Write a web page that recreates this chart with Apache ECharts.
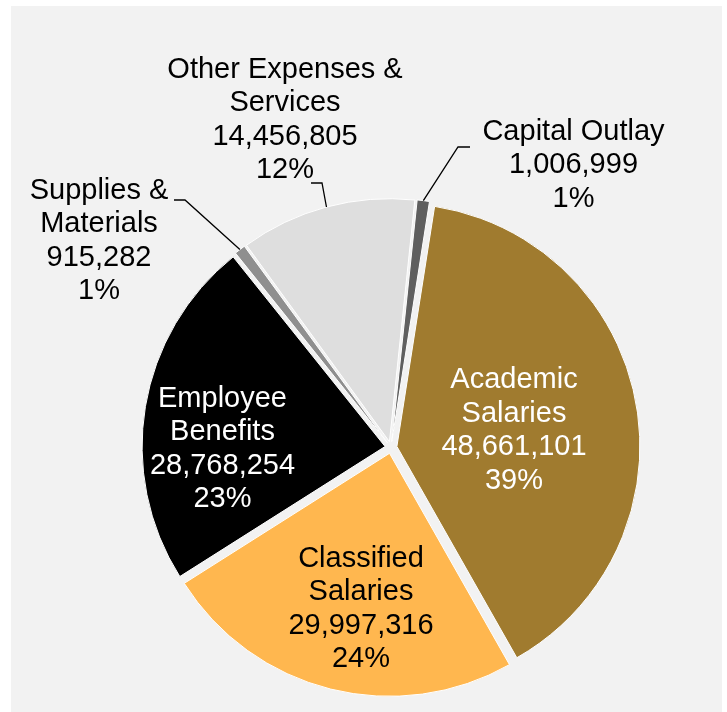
<!DOCTYPE html>
<html>
<head>
<meta charset="utf-8">
<title>Expenditures by Category</title>
<script src="https://cdn.jsdelivr.net/npm/echarts@6/dist/echarts.min.js"></script>
<style>
  html, body { margin: 0; padding: 0; background: #ffffff; }
  #chart { width: 727px; height: 712px; }
</style>
</head>
<body>
<div id="chart"></div>
<script>
// Expenditure categories, clockwise from the top of the pie
const categories = [
  'Capital Outlay',
  'Academic\nSalaries',
  'Classified\nSalaries',
  'Employee\nBenefits',
  'Supplies &\nMaterials',
  'Other Expenses &\nServices'
];
const amounts = [1006999, 48661101, 29997316, 28768254, 915282, 14456805];

const sliceColors = ['#5f5f5f', '#a07b2f', '#ffb74f', '#000000', '#8f8f8f', '#dedede'];
const labelColors = ['#000000', '#ffffff', '#000000', '#ffffff', '#000000', '#000000'];

// Pie geometry (pixels)
const PIE_CENTER = [391, 447.5];
const PIE_RADIUS = 243;
const EXPLODE = 6;

// Where each label block sits; callouts also get the elbow and end of their leader line
const labelPlacement = [
  { x: 573.5, y: 165, elbow: [458, 147], end: [470, 147] },
  { x: 514, y: 430.5 },
  { x: 361, y: 609 },
  { x: 222.5, y: 449 },
  { x: 99, y: 241, elbow: [185, 200], end: [174, 200] },
  { x: 285, y: 120, elbow: [322, 183], end: [311, 183] }
];

const FONT = '"Liberation Sans", Arial, Helvetica, sans-serif';

const sliceData = categories.map((name, i) => ({
  name: name,
  value: amounts[i],
  selected: true,
  itemStyle: { color: sliceColors[i] }
}));

const labelData = categories.map((name, i) => {
  const callout = !!labelPlacement[i].elbow;
  return {
    name: name,
    value: amounts[i],
    label: { position: callout ? 'outside' : 'inside', color: labelColors[i] },
    labelLine: { show: callout }
  };
});

const chart = echarts.init(document.getElementById('chart'), null, { renderer: 'canvas' });

chart.setOption({
  animation: false,
  backgroundColor: '#ffffff',
  graphic: [{
    type: 'rect',
    silent: true,
    z: 0,
    shape: { x: 11, y: 6, width: 711, height: 706 },
    style: { fill: '#f2f2f2' }
  }],
  series: [
    {
      // exploded slices
      type: 'pie',
      z: 2,
      center: PIE_CENTER,
      radius: [0, PIE_RADIUS],
      startAngle: 84,
      clockwise: true,
      selectedMode: 'multiple',
      selectedOffset: EXPLODE,
      avoidLabelOverlap: false,
      silent: true,
      label: { show: false },
      labelLine: { show: false },
      itemStyle: { borderColor: '#ffffff', borderWidth: 1 },
      select: { itemStyle: { borderColor: '#ffffff', borderWidth: 1 } },
      emphasis: { disabled: true },
      data: sliceData
    },
    {
      // labels and leader lines drawn over the slices
      type: 'pie',
      z: 3,
      center: PIE_CENTER,
      radius: [0, PIE_RADIUS],
      startAngle: 84,
      clockwise: true,
      avoidLabelOverlap: false,
      silent: true,
      itemStyle: { color: 'rgba(0,0,0,0)', borderWidth: 0 },
      emphasis: { disabled: true },
      label: {
        show: true,
        fontFamily: FONT,
        fontSize: 29,
        lineHeight: 33.5,
        align: 'center',
        textBorderWidth: 0,
        formatter: function (p) {
          return p.name + '\n' + p.value.toLocaleString('en-US') + '\n' + Math.round(p.percent) + '%';
        }
      },
      labelLine: {
        lineStyle: { color: '#000000', width: 1.3 }
      },
      labelLayout: function (params) {
        const spot = labelPlacement[params.dataIndex];
        const out = { x: spot.x, y: spot.y, align: 'center', verticalAlign: 'middle', hideOverlap: false };
        if (spot.elbow && params.labelLinePoints) {
          const a = params.labelLinePoints[0];
          const dx = a[0] - PIE_CENTER[0];
          const dy = a[1] - PIE_CENTER[1];
          const len = Math.hypot(dx, dy) || 1;
          out.labelLinePoints = [
            [a[0] + dx / len * EXPLODE, a[1] + dy / len * EXPLODE],
            spot.elbow,
            spot.end
          ];
        }
        return out;
      },
      data: labelData
    }
  ]
});
</script>
</body>
</html>
